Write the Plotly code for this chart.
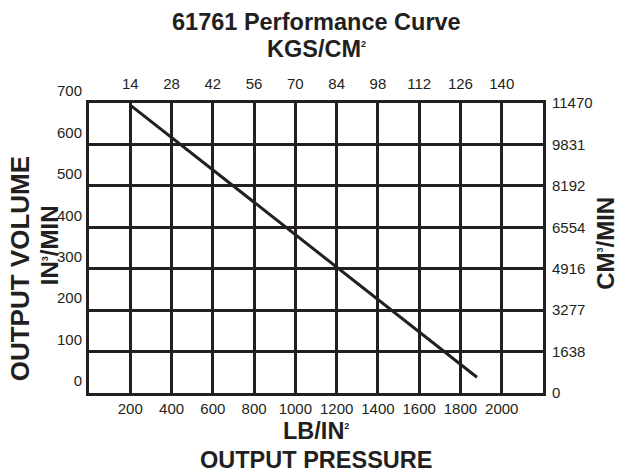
import plotly.graph_objects as go

# Pump 61761: output volume vs. output pressure
pressure_psi = [200, 1880]
volume_in3 = [695, 38]

# Axis tick labels
psi_ticks = [200, 400, 600, 800, 1000, 1200, 1400, 1600, 1800, 2000]
kgs_labels = ["14", "28", "42", "56", "70", "84", "98", "112", "126", "140"]
volume_ticks = [0, 100, 200, 300, 400, 500, 600, 700]
cm3_labels = ["0", "1638", "3277", "4916", "6554", "8192", "9831", "11470"]

INK = "#231f20"
TICK_FONT = dict(family="Liberation Sans, Arial, Helvetica, sans-serif",
                 size=15, color=INK)
BOLD_FONT = dict(family="Liberation Sans, Arial, Helvetica, sans-serif", color=INK, weight="bold")
SUP = "<sup><span style='font-size:9px'>{}</span></sup>"

fig = go.Figure()
fig.add_trace(go.Scatter(x=pressure_psi, y=volume_in3, mode="lines",
                         line=dict(color=INK, width=3), showlegend=False,
                         hoverinfo="skip"))
# invisible companion trace so the secondary (metric) axes are drawn
fig.add_trace(go.Scatter(x=pressure_psi, y=volume_in3, mode="lines",
                         line=dict(width=0), opacity=0, xaxis="x2", yaxis="y2",
                         showlegend=False, hoverinfo="skip"))

grid = dict(showgrid=True, gridcolor=INK, gridwidth=2.8, zeroline=False,
            showline=True, linecolor=INK, linewidth=3, mirror=True,
            ticks="", tickfont=TICK_FONT, fixedrange=True)

fig.update_layout(
    width=620, height=473,
    margin=dict(l=89, r=77, t=103, b=80),
    paper_bgcolor="white", plot_bgcolor="white",
    xaxis=dict(range=[0, 2200], tickmode="array", tickvals=psi_ticks,
               ticklabelstandoff=0, **grid),
    yaxis=dict(range=[0, 700], tickmode="array", tickvals=volume_ticks,
               ticklabelshift=-12, ticklabelstandoff=1, **grid),
    xaxis2=dict(range=[0, 2200], overlaying="x", side="top", tickmode="array",
                tickvals=psi_ticks, ticktext=kgs_labels, showgrid=False,
                zeroline=False, showline=False, ticks="", tickfont=TICK_FONT,
                ticklabelstandoff=10, fixedrange=True),
    yaxis2=dict(range=[0, 700], overlaying="y", side="right", tickmode="array",
                tickvals=volume_ticks, ticktext=cm3_labels, showgrid=False,
                zeroline=False, showline=False, ticks="", tickfont=TICK_FONT,
                ticklabelstandoff=8, fixedrange=True),
)

annotations = [
    ("61761 Performance Curve", 0.5, 1.279, 0, 23.5),
    ("KGS/CM" + SUP.format("2"), 0.5, 1.186, 0, 23.5),
    ("LB/IN" + SUP.format("2"), 0.5, -0.131, 0, 23.5),
    ("OUTPUT PRESSURE", 0.5, -0.231, 0, 23.5),
    ("OUTPUT VOLUME", -0.152, 0.43, -90, 26),
    ("IN" + SUP.format("3") + "/MIN", -0.088, 0.51, -90, 24),
    ("CM" + SUP.format("3") + "/MIN", 1.137, 0.515, -90, 24),
]
for text, x, y, angle, size in annotations:
    fig.add_annotation(text=text, x=x, y=y, xref="paper", yref="paper",
                       xanchor="center", yanchor="middle", showarrow=False,
                       textangle=angle, font=dict(BOLD_FONT, size=size))

fig.write_html("out.html")
